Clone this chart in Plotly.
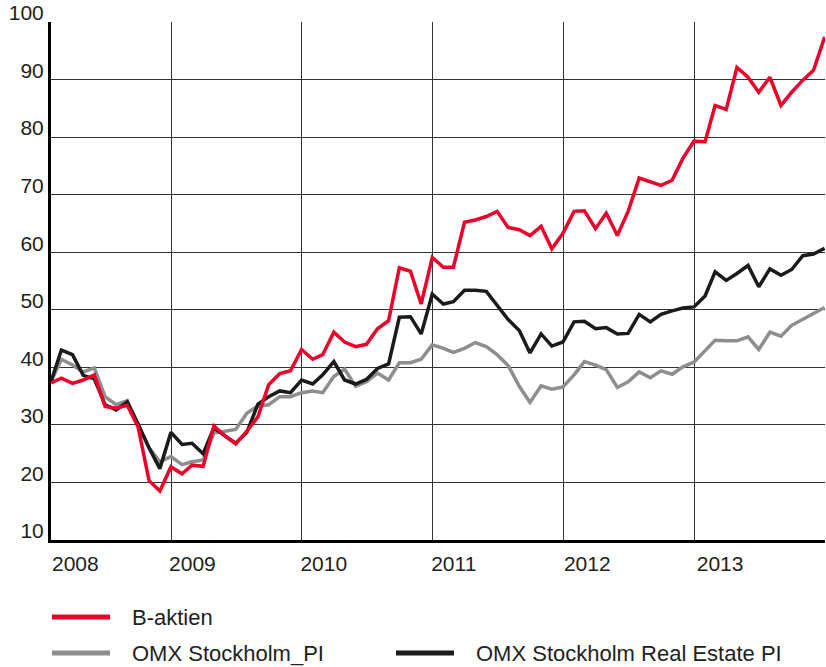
import pandas as pd
import plotly.graph_objects as go

# Monthly dates (month-end), Jan 2008 - Dec 2013
dates = pd.date_range("2008-01-31", periods=72, freq="ME").strftime("%Y-%m-%d").tolist()

b_aktien = [
    37.3, 38.1, 37.2, 37.8, 38.7, 33.2, 32.9, 33.4, 29.7, 20.3, 18.5, 22.7,
    21.5, 23.0, 22.8, 29.8, 28.1, 26.7, 28.9, 31.4, 37.0, 38.9, 39.4, 43.1,
    41.4, 42.2, 46.1, 44.4, 43.6, 44.0, 46.7, 48.1, 57.3, 56.7, 51.0, 59.1,
    57.4, 57.4, 65.2, 65.6, 66.2, 67.1, 64.3, 63.9, 62.9, 64.5, 60.6, 63.3,
    67.1, 67.2, 64.1, 66.8, 62.9, 67.1, 72.9, 72.3, 71.6, 72.5, 76.3, 79.3,
    79.2, 85.5, 84.8, 92.1, 90.4, 87.8, 90.4, 85.5, 87.8, 89.9, 91.6, 97.4,
]

omx_pi = [
    37.5, 41.4, 40.4, 39.2, 39.9, 34.9, 33.5, 34.2, 30.0, 26.0, 23.6, 24.5,
    23.1, 23.6, 23.9, 28.6, 28.9, 29.2, 32.0, 33.3, 33.5, 34.9, 34.9, 35.6,
    35.9, 35.6, 38.4, 39.7, 36.7, 37.5, 39.0, 37.8, 40.8, 40.8, 41.4, 43.9,
    43.3, 42.6, 43.3, 44.3, 43.6, 42.2, 40.3, 36.7, 33.9, 36.8, 36.2, 36.6,
    38.7, 41.0, 40.4, 39.6, 36.5, 37.5, 39.2, 38.2, 39.4, 38.8, 40.1, 40.9,
    42.9, 44.7, 44.6, 44.6, 45.3, 43.1, 46.1, 45.4, 47.3, 48.3, 49.3, 50.4,
]

omx_real_estate = [
    37.5, 43.0, 42.2, 38.6, 38.0, 33.5, 32.6, 34.0, 30.2, 26.0, 22.4, 28.7,
    26.6, 26.8, 25.0, 29.5, 28.1, 26.8, 28.7, 33.6, 34.9, 35.9, 35.6, 37.8,
    37.1, 38.7, 41.0, 37.8, 37.1, 37.9, 39.8, 40.6, 48.7, 48.8, 45.8, 52.7,
    51.0, 51.4, 53.4, 53.4, 53.2, 50.7, 48.3, 46.4, 42.5, 45.8, 43.7, 44.4,
    47.9, 48.0, 46.7, 46.9, 45.8, 45.9, 49.2, 47.9, 49.2, 49.8, 50.3, 50.5,
    52.4, 56.6, 55.1, 56.3, 57.7, 54.0, 57.1, 56.0, 57.0, 59.4, 59.7, 60.7,
]

year_labels = ["2008", "2009", "2010", "2011", "2012", "2013"]
year_label_pos = ["2008-04-08", "2009-03-01", "2010-03-03", "2011-03-01", "2012-03-08", "2013-03-14"]
year_grid = ["2009-01-01", "2010-01-01", "2011-01-01", "2012-01-01", "2013-01-01", "2014-01-01"]
y_ticks = [10, 20, 30, 40, 50, 60, 70, 80, 90, 100]

series_names = ["B-aktien", "OMX Stockholm_PI", "OMX Stockholm Real Estate PI"]
RED = "#ec0029"
GREY = "#8e8e8e"
BLACK = "#1b1b1b"

fig = go.Figure()
for vals, name, col in [(omx_pi, series_names[1], GREY),
                        (omx_real_estate, series_names[2], BLACK),
                        (b_aktien, series_names[0], RED)]:
    fig.add_trace(go.Scatter(x=dates, y=vals, name=name, mode="lines",
                             line=dict(color=col, width=3.5), showlegend=False))

tick_font = dict(family="Liberation Sans Narrow, Liberation Sans, Arial, sans-serif",
                 size=21, color="#222222")

W, H = 826, 667
pl, pr, pt, pb = 51, 1, 22, 127

fig.update_layout(
    width=W, height=H,
    margin=dict(l=pl, r=pr, t=pt, b=pb, autoexpand=False),
    paper_bgcolor="white", plot_bgcolor="white",
    xaxis=dict(
        type="date", automargin=False,
        range=["2008-01-31", "2014-01-01"],
        tickmode="array", tickvals=year_label_pos, ticktext=year_labels,
        showgrid=False, ticks="", tickfont=tick_font, ticklabelstandoff=3,
        showline=True, linecolor="black", linewidth=3,
        minor=dict(tickmode="array", tickvals=year_grid, showgrid=True,
                   gridcolor="#333333", gridwidth=1, ticks=""),
        zeroline=False,
    ),
    yaxis=dict(
        range=[10, 100], tickmode="array", tickvals=y_ticks, automargin=False,
        showgrid=True, gridcolor="#333333", gridwidth=1,
        ticks="", tickfont=tick_font, ticklabelstandoff=0, ticklabelshift=-9,
        showline=True, linecolor="black", linewidth=3, zeroline=False,
    ),
)

# Manual legend (paper coordinates) to reproduce long legend strokes
legend_items = [
    (series_names[0], RED, 52, 617),
    (series_names[1], GREY, 52, 653),
    (series_names[2], BLACK, 396, 653),
]
pw, ph = W - pl - pr, H - pt - pb
def px_to_paper(x, y):
    return (x - pl) / pw, (H - pb - y) / ph

legend_font = dict(family="Liberation Sans, Arial, sans-serif", size=22, color="#222222")
for name, col, x0, y0 in legend_items:
    ax0, ay = px_to_paper(x0, y0)
    ax1, _ = px_to_paper(x0 + 58, y0)
    fig.add_shape(type="line", xref="paper", yref="paper", x0=ax0, x1=ax1, y0=ay, y1=ay,
                  line=dict(color=col, width=5))
    tx, _ = px_to_paper(x0 + 78, y0)
    fig.add_annotation(xref="paper", yref="paper", x=tx, y=ay, text=name, showarrow=False,
                       xanchor="left", yanchor="middle", font=legend_font)

fig.write_html("out.html", config={"displayModeBar": False},
               post_script="document.body.style.margin='0';document.body.style.padding='0';")
